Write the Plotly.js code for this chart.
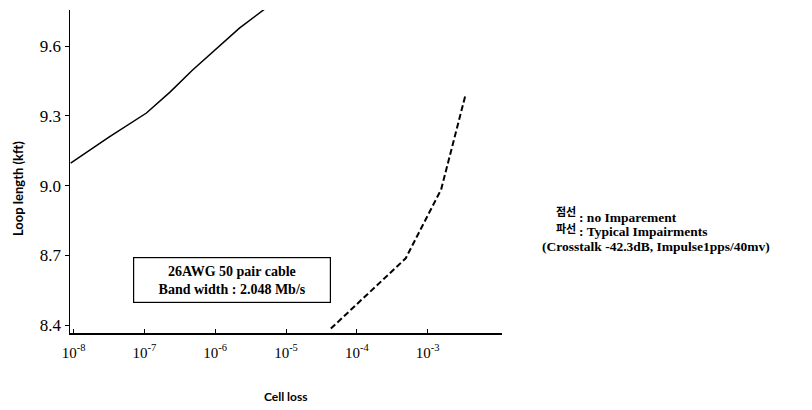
<!DOCTYPE html>
<html>
<head>
<meta charset="utf-8">
<script src="https://cdn.plot.ly/plotly-3.0.1.min.js"></script>
<style>html,body{margin:0;padding:0;background:#fff;}#chart{width:812px;height:410px;}</style>
</head>
<body>
<div id="chart"></div>
<script>
// Data
const noImpairX = [9.1e-9, 3.2e-8, 1.07e-7, 2.3e-7, 4.8e-7, 2.2e-6, 5.0e-6];
const noImpairY = [9.097, 9.209, 9.312, 9.402, 9.497, 9.677, 9.759];
const typicalX = [4.3e-5, 4.9e-4, 1.55e-3, 3.4e-3];
const typicalY = [8.385, 8.687, 8.983, 9.386];

const xTickVals = [1e-8, 1e-7, 1e-6, 1e-5, 1e-4, 1e-3];
const xTickText = ['10<sup>-8</sup>', '10<sup>-7</sup>', '10<sup>-6</sup>', '10<sup>-5</sup>', '10<sup>-4</sup>', '10<sup>-3</sup>'];
const yTickVals = [8.4, 8.7, 9.0, 9.3, 9.6];
const yTickText = ['8.4', '8.7', '9.0', '9.3', '9.6'];

const serif = '"Liberation Serif", "DejaVu Serif", serif';
const sans = 'Lato, "Open Sans", sans-serif';
const kr = '"Noto Sans CJK KR", sans-serif';

const traces = [
  {x: noImpairX, y: noImpairY, mode: 'lines', line: {color: '#000', width: 1.5}, showlegend: false},
  {x: typicalX, y: typicalY, mode: 'lines', line: {color: '#000', width: 2, dash: '6px,3px'}, showlegend: false}
];

const layout = {
  width: 812, height: 410,
  margin: {l: 70, r: 310, t: 10, b: 77},
  paper_bgcolor: '#fff', plot_bgcolor: '#fff',
  font: {family: serif, color: '#000'},
  xaxis: {
    type: 'log', range: [-8.05, -1.95],
    tickvals: xTickVals, ticktext: xTickText,
    ticks: 'inside', ticklen: 4, tickcolor: '#000',
    showline: true, linecolor: '#000', linewidth: 1.5,
    showgrid: false, zeroline: false,
    ticklabelstandoff: 5,
    tickfont: {family: serif, size: 15, color: '#000'}
  },
  yaxis: {
    range: [8.366, 9.755],
    tickvals: yTickVals, ticktext: yTickText,
    ticks: 'outside', ticklen: 4, tickcolor: '#000',
    showline: true, linecolor: '#000', linewidth: 1.5,
    showgrid: false, zeroline: false,
    tickfont: {family: serif, size: 17, color: '#000'}
  },
  annotations: [
    {xref: 'paper', yref: 'paper', x: -0.12, y: 0.446, xanchor: 'center', yanchor: 'middle',
     text: '<b>Loop length (kft)</b>', textangle: -90, showarrow: false,
     font: {family: sans, size: 13, color: '#000'}},
    {xref: 'paper', yref: 'paper', x: 0.5, y: -0.198, xanchor: 'center', yanchor: 'middle',
     text: '<b>Cell loss</b>', showarrow: false,
     font: {family: sans, size: 12, color: '#000'}},
    {xref: 'paper', yref: 'paper', x: 0.375, y: 0.164, xanchor: 'center', yanchor: 'middle',
     text: '<b>26AWG 50 pair cable<br>Band width : 2.048 Mb/s</b>', showarrow: false,
     align: 'center', width: 192, height: 40, bordercolor: '#000', borderwidth: 1.2, borderpad: 2,
     bgcolor: '#fff', font: {family: serif, size: 14, color: '#000'}},
    {xref: 'paper', yref: 'paper', x: 1.121, y: 0.378, xanchor: 'left', yanchor: 'middle',
     text: '<b>점선</b>', showarrow: false,
     font: {family: kr, size: 11, color: '#000'}},
    {xref: 'paper', yref: 'paper', x: 1.173, y: 0.359, xanchor: 'left', yanchor: 'middle',
     text: '<b>: no Imparement</b>', showarrow: false,
     font: {family: serif, size: 13.5, color: '#000'}},
    {xref: 'paper', yref: 'paper', x: 1.121, y: 0.325, xanchor: 'left', yanchor: 'middle',
     text: '<b>파선</b>', showarrow: false,
     font: {family: kr, size: 11, color: '#000'}},
    {xref: 'paper', yref: 'paper', x: 1.173, y: 0.313, xanchor: 'left', yanchor: 'middle',
     text: '<b>: Typical Impairments</b>', showarrow: false,
     font: {family: serif, size: 13.5, color: '#000'}},
    {xref: 'paper', yref: 'paper', x: 1.088, y: 0.267, xanchor: 'left', yanchor: 'middle',
     text: '<b>(Crosstalk -42.3dB, Impulse1pps/40mv)</b>', showarrow: false,
     font: {family: serif, size: 13.5, color: '#000'}}
  ]
};

Plotly.newPlot('chart', traces, layout, {staticPlot: true, displayModeBar: false});
</script>
</body>
</html>
